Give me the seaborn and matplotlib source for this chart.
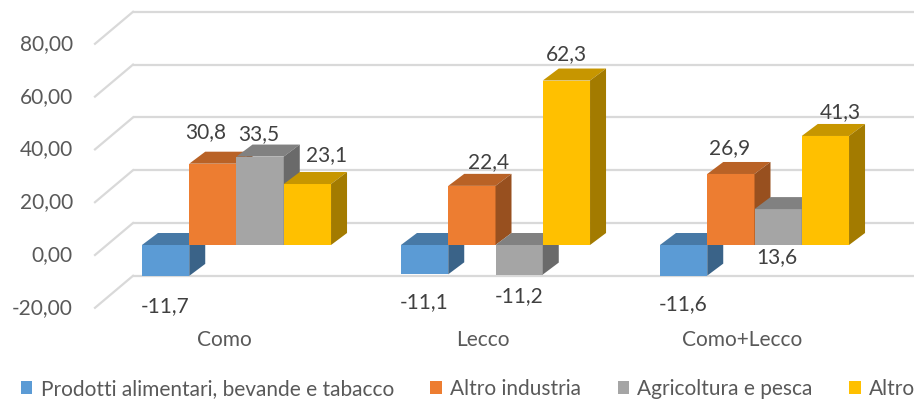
import numpy as np
import pandas as pd
import matplotlib
matplotlib.use('Agg')
import matplotlib.pyplot as plt
import matplotlib.colors as mcolors
from matplotlib.patches import Polygon, Patch
import seaborn as sns

# data
areas = ['Como', 'Lecco', 'Como+Lecco']
series = ['Prodotti alimentari, bevande e tabacco', 'Altro industria',
          'Agricoltura e pesca', 'Altro']
food = [-11.7, -11.1, -11.6]
industry = [30.8, 22.4, 26.9]
agri = [33.5, -11.2, 13.6]
other = [23.1, 62.3, 41.3]
yticks = [-20, 0, 20, 40, 60, 80]

colors = ['#5B9BD5', '#ED7D31', '#A5A5A5', '#FFC000']

df = pd.DataFrame({
    'area': areas * 4,
    'settore': np.repeat(series, len(areas)),
    'valore': food + industry + agri + other,
})

# layout in pixels (figure is 914x400)
W, H = 914, 400
X0PX, XSCALE = 236.5, 259.0   # px of first group centre, px per category
Y0PX, YSCALE = 245.0, 2.64    # px (from top) of value 0 on front plane, px per unit
DX, DY = 16 / XSCALE, 12 / YSCALE          # bar depth
WALL_DY = 22 / YSCALE                      # back wall shift
FLOOR_DX, FLOOR_DY = 38 / XSCALE, 32 / YSCALE
WALL_X = (133 - X0PX) / XSCALE
FS = 15

plt.rcParams['font.family'] = ['Lato', 'DejaVu Sans']
text_col = '#595959'

fig = plt.figure(figsize=(W / 100, H / 100), dpi=100)
ax = fig.add_axes([0, 0, 1, 1])

sns.barplot(data=df, x='area', y='valore', hue='settore', hue_order=series,
            order=areas, palette=colors, saturation=1, width=0.73,
            linewidth=0, legend=False, errorbar=None, ax=ax)

ax.set_xlim(-X0PX / XSCALE, (W - X0PX) / XSCALE)
ax.set_ylim((Y0PX - H) / YSCALE, Y0PX / YSCALE)
ax.axis('off')

# back wall grid + floor diagonals
xmax = (W - X0PX) / XSCALE
for v in yticks:
    yb = v + WALL_DY
    ax.plot([WALL_X, xmax], [yb, yb], color='#D9D9D9', lw=1.6, zorder=0.5,
            solid_capstyle='butt')
    ax.plot([WALL_X - FLOOR_DX, WALL_X], [yb - FLOOR_DY, yb], color='#D9D9D9',
            lw=1.6, zorder=0.5)
    ax.text(WALL_X - FLOOR_DX - 22 / XSCALE, yb - FLOOR_DY, f'{v:.2f}'.replace('.', ','),
            ha='right', va='center', fontsize=FS, color=text_col)


def shade(c, f):
    r, g, b = mcolors.to_rgb(c)
    return (r * f, g * f, b * f)


# label nudges (px) per area x series
lab_dx = [[0, -7, -1, 19], [0, 17, 0, 0], [0, -1, -1, 15]]
lab_dy = [[-2, 6, -4, 3], [0, -2, 6, 0], [0, 0, 0, -2]]

for k, cont in enumerate(ax.containers):
    c = colors[k]
    for i, bar in enumerate(cont):
        x0, w = bar.get_x(), bar.get_width()
        y0, h = bar.get_y(), bar.get_height()
        ytop, ybot = max(y0, y0 + h), min(y0, y0 + h)
        z = 3 + k
        bar.set_zorder(z)
        ax.add_patch(Polygon([(x0, ytop), (x0 + w, ytop), (x0 + w + DX, ytop + DY),
                              (x0 + DX, ytop + DY)], closed=True,
                             fc=shade(c, 0.78), ec='none', zorder=z))
        ax.add_patch(Polygon([(x0 + w, ybot), (x0 + w, ytop), (x0 + w + DX, ytop + DY),
                              (x0 + w + DX, ybot + DY)], closed=True,
                             fc=shade(c, 0.64), ec='none', zorder=z))
        val = h
        txt = f'{val:.1f}'.replace('.', ',')
        if val < 0:
            anchor, off = ybot, -28
        elif val < 20:
            anchor, off = 0, -12
        else:
            anchor, off = ytop, 26
        ax.annotate(txt, (x0 + w / 2, anchor),
                    xytext=(lab_dx[i][k], off + lab_dy[i][k]),
                    textcoords='offset pixels', ha='center', va='center',
                    fontsize=FS, color='#404040', zorder=10)

for i, a in enumerate(areas):
    ax.text(i - 12.5 / XSCALE, (Y0PX - 340) / YSCALE, a, ha='center', va='center',
            fontsize=FS, color=text_col)

handles = [Patch(facecolor=c, edgecolor='none') for c in colors]
fig.legend(handles, series, loc='center', bbox_to_anchor=(0.512, 11 / H), ncol=4,
           frameon=False, fontsize=FS, handlelength=0.55, handleheight=0.55,
           handletextpad=0.4, columnspacing=1.75, labelcolor=text_col)

fig.savefig('out.png', dpi=100)
